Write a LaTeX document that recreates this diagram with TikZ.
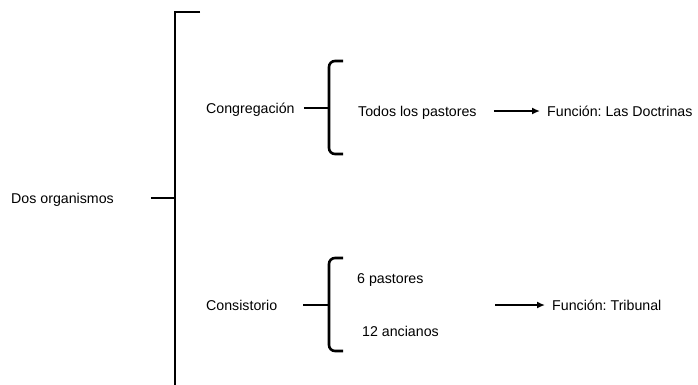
\documentclass[tikz,border=0pt]{standalone}
\usepackage{fontspec}
\setmainfont{Liberation Sans}
\usetikzlibrary{arrows.meta}
\frenchspacing
\tikzset{
  >=Latex,
  every node/.append style={font=\fontsize{14.2}{17}\selectfont},
}

\begin{document}
\begin{tikzpicture}[x=1pt, y=-1pt,
  txt/.style     ={anchor=west, inner sep=0pt, text height=10.2pt, text depth=0pt},
  line/.style    ={line width=2.6pt},
  bracket/.style ={line width=2.6pt, rounded corners=6pt},
  arrowthin/.style={-{Latex[length=8pt,width=7pt]}, line width=2.2pt}
]

\useasboundingbox (0,0) rectangle (698,384);

% Left: main bracket
\node[txt] (dos) at (11,198) {Dos organismos};
\coordinate (bigtop) at (175,12);
\coordinate (bigmid) at (175,198);
\coordinate (bigbot) at (175,392);
\draw[line] (200,12) -- (bigtop) -- (bigbot);
\draw[line, shorten <=37pt] (dos.east) -- (bigmid);

% Upper branch
\node[txt] (congr) at (206,108) {Congregación};
\coordinate (congrmid) at (329,108);
\draw[bracket] (343,61) -- (329,61) -- (329,154) -- (343,154);
\draw[line, shorten <=9pt] (congr.east) -- (congrmid);
\node[txt] (todos) at (358,111) {Todos los pastores};
\node[txt] (func1) at (547,111) {Función: Las Doctrinas};
\draw[arrowthin, shorten <=17pt, shorten >=7pt] (todos.east) -- (func1.west);

% Lower branch
\node[txt] (consis) at (206,305) {Consistorio};
\coordinate (consismid) at (329,305);
\draw[bracket] (343,258) -- (329,258) -- (329,351) -- (343,351);
\draw[line, shorten <=26pt] (consis.east) -- (consismid);
\node[txt] (seis) at (357,278) {6 pastores};
\node[txt] (doce) at (362,331) {12 ancianos};
\node[txt] (func2) at (552,305) {Función: Tribunal};
\coordinate (arrowtwo) at (495,305);
\draw[arrowthin, shorten >=7pt] (arrowtwo) -- (func2.west);

\end{tikzpicture}
\end{document}
